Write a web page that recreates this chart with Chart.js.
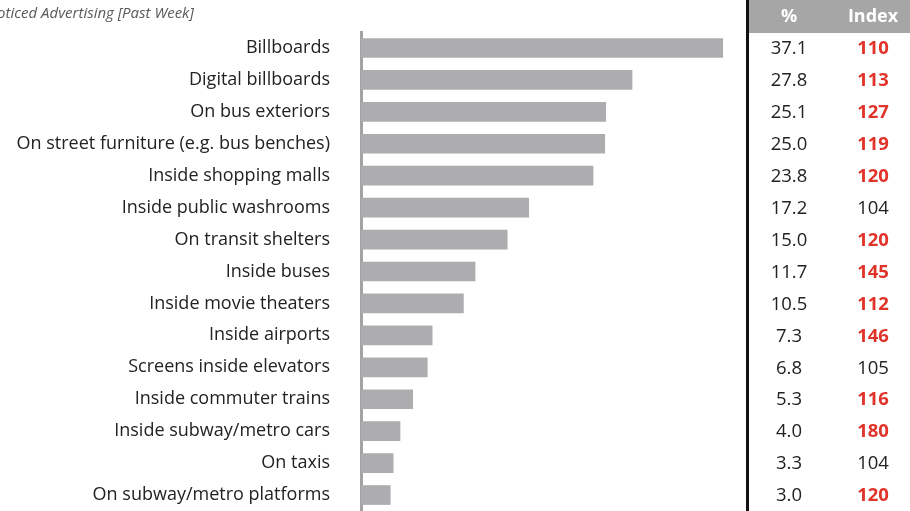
<!DOCTYPE html>
<html>
<head>
<meta charset="utf-8">
<script src="https://cdn.jsdelivr.net/npm/chart.js@4/dist/chart.umd.min.js"></script>
<style>
  html, body { margin: 0; padding: 0; background: #fff; overflow: hidden; }
  #wrap { width: 910px; height: 511px; position: relative; }
  #c { display: block; }
</style>
</head>
<body>
<div id="wrap"><canvas id="c" width="910" height="511"></canvas></div>
<script>
const categories = [
  'Billboards',
  'Digital billboards',
  'On bus exteriors',
  'On street furniture (e.g. bus benches)',
  'Inside shopping malls',
  'Inside public washrooms',
  'On transit shelters',
  'Inside buses',
  'Inside movie theaters',
  'Inside airports',
  'Screens inside elevators',
  'Inside commuter trains',
  'Inside subway/metro cars',
  'On taxis',
  'On subway/metro platforms'
];
const percentValues = [37.1, 27.8, 25.1, 25.0, 23.8, 17.2, 15.0, 11.7, 10.5, 7.3, 6.8, 5.3, 4.0, 3.3, 3.0];
const indexValues = [110, 113, 127, 119, 120, 104, 120, 145, 112, 146, 105, 116, 180, 104, 120];
const indexHighlighted = [true, true, true, true, true, false, true, true, true, true, false, true, true, false, true];
const titleText = 'Noticed Advertising [Past Week]';
const tableHeaders = ['%', 'Index'];

const AXIS_LEFT = 361;

// Title, side table with % and index columns
const sideTable = {
  id: 'sideTable',
  afterDraw(chart) {
    const ctx = chart.ctx;
    const y = chart.scales.y;
    ctx.save();
    // title
    ctx.font = 'italic 15px "Open Sans"';
    ctx.fillStyle = '#595959';
    ctx.textAlign = 'left';
    ctx.textBaseline = 'middle';
    ctx.fillText(titleText, -13.5, 14);

    // header band
    ctx.fillStyle = '#a6a6a6';
    ctx.fillRect(748, 0, 162, 33);
    ctx.fillStyle = '#ffffff';
    ctx.font = 'bold 18px "Open Sans"';
    ctx.textAlign = 'center';
    ctx.fillText(tableHeaders[0], 789, 17);
    ctx.fillText(tableHeaders[1], 873, 17);

    // left border
    ctx.strokeStyle = '#111111';
    ctx.lineWidth = 3;
    ctx.beginPath();
    ctx.moveTo(747.5, 0);
    ctx.lineTo(747.5, 511);
    ctx.stroke();

    // rows
    categories.forEach((c, i) => {
      const py = y.getPixelForValue(i) + 1;
      ctx.font = '18.5px "Open Sans"';
      ctx.fillStyle = '#222222';
      ctx.fillText(percentValues[i].toFixed(1), 789, py);
      if (indexHighlighted[i]) {
        ctx.font = 'bold 18.5px "Open Sans"';
        ctx.fillStyle = '#e0342a';
      } else {
        ctx.font = '18.5px "Open Sans"';
        ctx.fillStyle = '#222222';
      }
      ctx.fillText(String(indexValues[i]), 873, py);
    });
    ctx.restore();
  }
};

new Chart(document.getElementById('c'), {
  type: 'bar',
  data: {
    labels: categories,
    datasets: [{
      data: percentValues,
      backgroundColor: '#adadaf',
      borderWidth: 0,
      barThickness: 19
    }]
  },
  options: {
    indexAxis: 'y',
    responsive: false,
    maintainAspectRatio: false,
    animation: false,
    devicePixelRatio: 1,
    layout: { padding: { top: 32, bottom: -1, left: 0, right: 159 } },
    plugins: { legend: { display: false }, tooltip: { enabled: false } },
    scales: {
      x: {
        display: false,
        min: 0,
        max: 40
      },
      y: {
        afterFit(scale) {
          scale.width = AXIS_LEFT;
          // rows fill the full height below the title band
          scale.paddingTop = 0;
          scale.paddingBottom = 0;
        },
        grid: { display: false },
        border: { display: true, color: '#a3a3a3', width: 3 },
        ticks: {
          color: '#222222',
          padding: 23,
          font: { family: '"Open Sans"', size: 18 }
        }
      }
    }
  },
  plugins: [sideTable]
});
</script>
</body>
</html>
